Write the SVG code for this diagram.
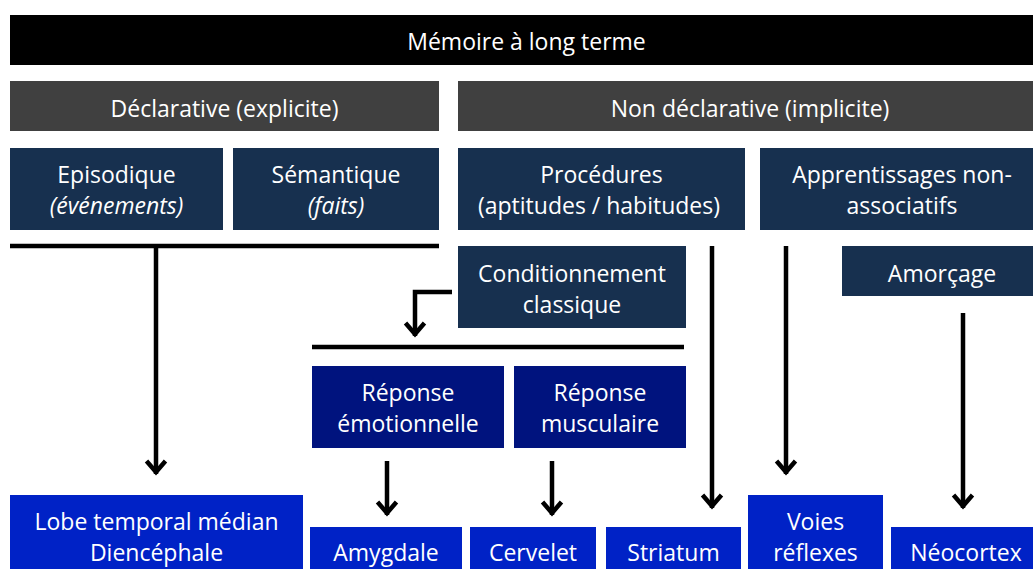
<svg xmlns="http://www.w3.org/2000/svg" width="1033" height="569" viewBox="0 0 1033 569">
<defs>
<marker id="ah" markerUnits="userSpaceOnUse" orient="auto" refX="0" refY="0" markerWidth="30" markerHeight="30" overflow="visible">
<path d="M-13,-9.5 L-2,0 L-13,9.5" fill="none" stroke="#000" stroke-width="4.5" stroke-linejoin="miter"/>
</marker>
</defs>
<style>
text{font-family:"Open Sans","Liberation Sans",sans-serif;font-size:23px;fill:#fff;text-anchor:middle}
.it{font-style:italic}
.k{fill:#000}
.g{fill:#404040}
.n{fill:#17304f}
.d{fill:#00137e}
.b{fill:#0022c6}
.ln{stroke:#000;stroke-width:4.5;fill:none}
</style>
<g id="memoire"><rect class="k" x="10" y="15" width="1033" height="50"/><text x="526.5" y="50">Mémoire à long terme</text></g>
<g id="declarative"><rect class="g" x="10" y="81" width="429" height="50"/><text x="224.5" y="117">Déclarative (explicite)</text></g>
<g id="nondeclarative"><rect class="g" x="458" y="81" width="585" height="50"/><text x="750" y="117">Non déclarative (implicite)</text></g>
<g id="episodique"><rect class="n" x="10" y="148" width="213" height="82"/><text x="116.5" y="183">Episodique</text><text class="it" x="116.5" y="214">(événements)</text></g>
<g id="semantique"><rect class="n" x="233" y="148" width="206" height="82"/><text x="336" y="183">Sémantique</text><text class="it" x="336" y="214">(faits)</text></g>
<g id="procedures"><rect class="n" x="458" y="148" width="287" height="82"/><text x="601.5" y="183">Procédures</text><text x="599" y="214">(aptitudes / habitudes)</text></g>
<g id="apprentissages"><rect class="n" x="760" y="148" width="283" height="82"/><text x="902" y="183">Apprentissages non-</text><text x="902" y="214">associatifs</text></g>
<g id="conditionnement"><rect class="n" x="458" y="246" width="228" height="82"/><text x="572" y="282">Conditionnement</text><text x="572" y="313">classique</text></g>
<g id="amorcage"><rect class="n" x="842" y="246" width="201" height="50"/><text x="942" y="282">Amorçage</text></g>
<g id="emotionnelle"><rect class="d" x="312" y="366" width="192" height="82"/><text x="408" y="401">Réponse</text><text x="408" y="432">émotionnelle</text></g>
<g id="musculaire"><rect class="d" x="514" y="366" width="172" height="82"/><text x="600" y="401">Réponse</text><text x="600" y="432">musculaire</text></g>
<g id="lobe"><rect class="b" x="10" y="495" width="293" height="80"/><text x="156.5" y="530">Lobe temporal médian</text><text x="156.5" y="561">Diencéphale</text></g>
<g id="amygdale"><rect class="b" x="310" y="527" width="152" height="48"/><text x="386" y="561">Amygdale</text></g>
<g id="cervelet"><rect class="b" x="470" y="527" width="126" height="48"/><text x="533" y="561">Cervelet</text></g>
<g id="striatum"><rect class="b" x="606" y="527" width="135" height="48"/><text x="673.5" y="561">Striatum</text></g>
<g id="voies"><rect class="b" x="748" y="495" width="135" height="80"/><text x="815.5" y="530">Voies</text><text x="815.5" y="561">réflexes</text></g>
<g id="neocortex"><rect class="b" x="891" y="527" width="152" height="48"/><text x="966" y="561">Néocortex</text></g>
<g id="connectors">
<line class="ln" x1="10" y1="246" x2="439" y2="246"/>
<line class="ln" x1="312" y1="347" x2="684" y2="347"/>
<path class="ln" d="M156,246 V474" marker-end="url(#ah)"/>
<path class="ln" d="M452,292 H415 V336" marker-end="url(#ah)"/>
<path class="ln" d="M387,461 V515" marker-end="url(#ah)"/>
<path class="ln" d="M552,461 V515" marker-end="url(#ah)"/>
<path class="ln" d="M712,246 V508" marker-end="url(#ah)"/>
<path class="ln" d="M786,246 V474" marker-end="url(#ah)"/>
<path class="ln" d="M963,313 V508" marker-end="url(#ah)"/>
</g>
</svg>
